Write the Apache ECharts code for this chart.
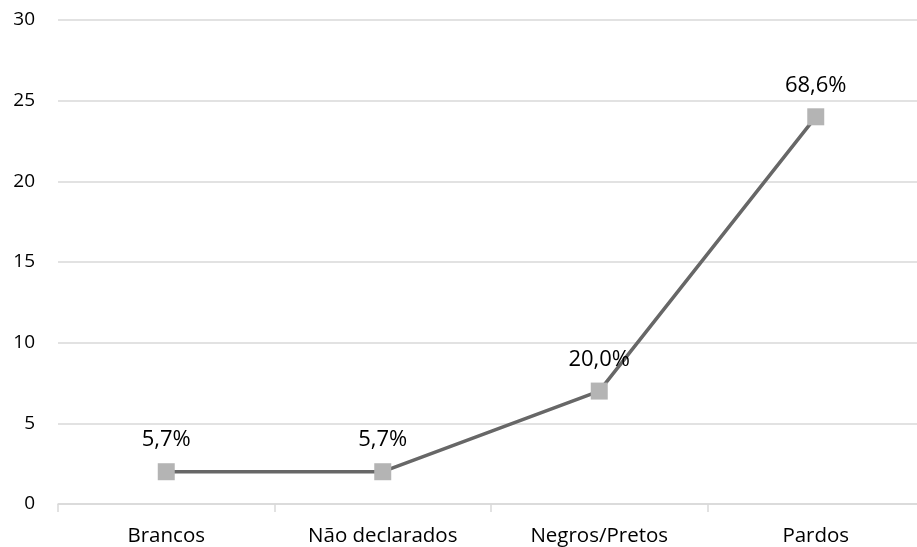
<!DOCTYPE html>
<html>
<head>
<meta charset="utf-8">
<script src="https://cdn.jsdelivr.net/npm/echarts@6/dist/echarts.min.js"></script>
<style>
  html, body { margin: 0; padding: 0; background: #fff; overflow: hidden; }
  /* the plot area runs a few pixels past the right edge of the window */
  #chart { width: 924px; height: 547px; }
</style>
</head>
<body>
<div id="chart"></div>
<script>
// Respondents by race/colour: counts and their share of the total
const categories = ['Brancos', 'Não declarados', 'Negros/Pretos', 'Pardos'];
const counts = [2, 2, 7, 24];
const shareLabels = ['5,7%', '5,7%', '20,0%', '68,6%'];
const yTicks = { min: 0, max: 30, interval: 5 };

const font = '"Open Sans", "Noto Sans", sans-serif';
const chart = echarts.init(document.getElementById('chart'), null, { renderer: 'canvas' });

chart.setOption({
  animation: false,
  grid: { left: 58, right: 0, top: 20, height: 485, containLabel: false },
  xAxis: {
    type: 'category',
    data: categories,
    boundaryGap: true,
    axisLine: { show: true, lineStyle: { color: '#d9d9d9', width: 1.5 } },
    axisTick: { show: true, length: 8, alignWithLabel: false, lineStyle: { color: '#d9d9d9', width: 1.5 } },
    axisLabel: { color: '#000', fontFamily: font, fontSize: 20.5, margin: 22 },
    splitLine: { show: false }
  },
  yAxis: {
    type: 'value',
    min: yTicks.min,
    max: yTicks.max,
    interval: yTicks.interval,
    axisLine: { show: false },
    axisTick: { show: false },
    axisLabel: { color: '#000', fontFamily: font, fontSize: 19, margin: 23 },
    splitLine: { lineStyle: { color: '#d9d9d9', width: 1.5 } }
  },
  series: [{
    type: 'line',
    data: counts,
    symbol: 'rect',
    symbolSize: 17,
    itemStyle: { color: '#b4b4b4' },
    lineStyle: { color: '#676767', width: 3.5 },
    z: 3,
    label: {
      show: true,
      position: 'top',
      distance: 12,
      color: '#000',
      fontFamily: font,
      fontSize: 22,
      formatter: p => shareLabels[p.dataIndex]
    }
  }]
});
</script>
</body>
</html>
